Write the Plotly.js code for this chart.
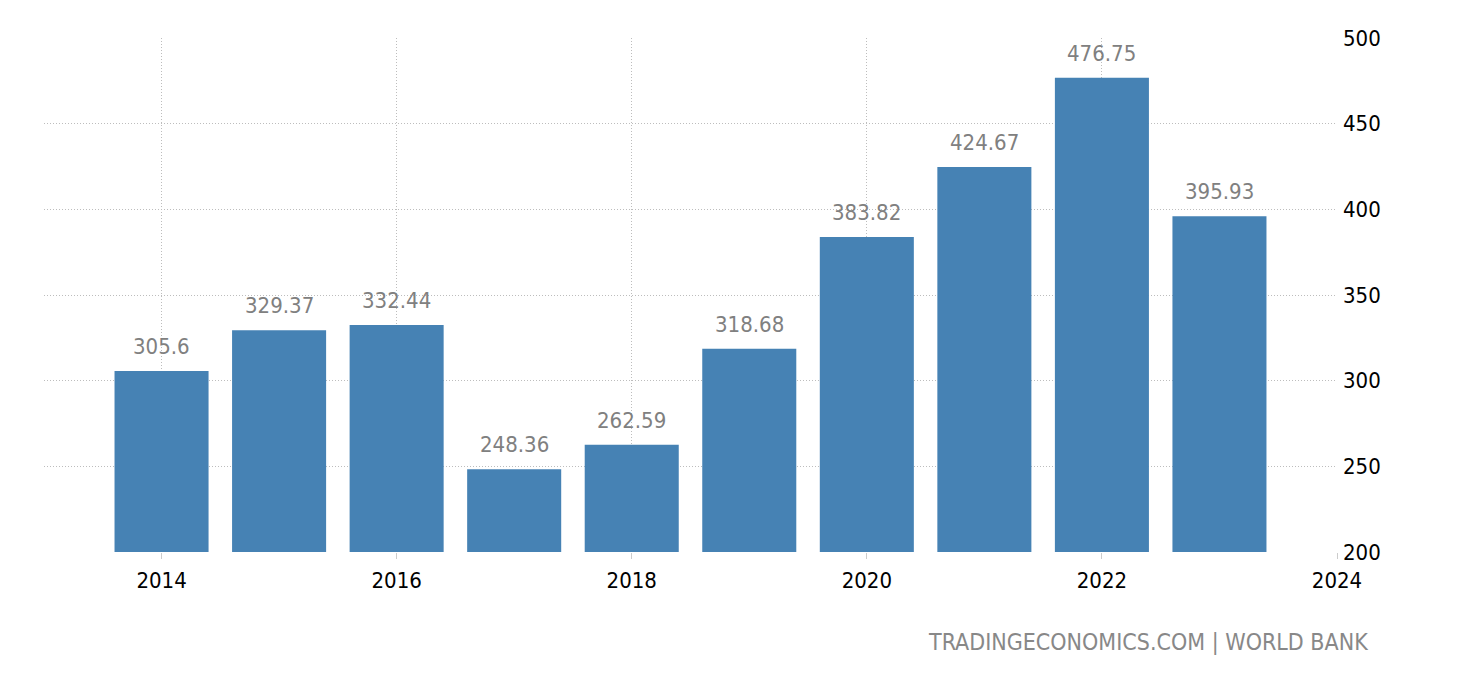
<!DOCTYPE html>
<html>
<head>
<meta charset="utf-8">
<script src="https://cdn.plot.ly/plotly-3.0.1.min.js"></script>
<style>html,body{margin:0;padding:0;background:#fff;}#chart{width:1460px;height:680px;}</style>
</head>
<body>
<div id="chart"></div>
<script>
var years = [2014, 2015, 2016, 2017, 2018, 2019, 2020, 2021, 2022, 2023];
var values = [305.6, 329.37, 332.44, 248.36, 262.59, 318.68, 383.82, 424.67, 476.75, 395.93];
var labels = ["305.6", "329.37", "332.44", "248.36", "262.59", "318.68", "383.82", "424.67", "476.75", "395.93"];
var xTicks = [2014, 2016, 2018, 2020, 2022, 2024];
var yTicks = [200, 250, 300, 350, 400, 450, 500];
var source = "TRADINGECONOMICS.COM | WORLD BANK";

var FONT = 'DejaVu Sans Condensed, DejaVu Sans';

var trace = {
  type: 'bar',
  x: years,
  y: values,
  width: 0.8,
  marker: {color: '#4682B4', line: {width: 0}},
  hoverinfo: 'skip'
};

var annotations = years.map(function(yr, i){
  return {
    x: yr, y: values[i], xref: 'x', yref: 'y',
    text: labels[i], showarrow: false,
    xanchor: 'center', yanchor: 'bottom', yshift: 10,
    font: {family: FONT, size: 22, color: '#808080'}
  };
});
annotations.push({
  text: source, showarrow: false,
  xref: 'paper', yref: 'paper', x: 1.0255, y: -0.175,
  xanchor: 'right', yanchor: 'middle',
  font: {family: FONT, size: 23, color: '#888888'}
});

var layout = {
  width: 1460, height: 680,
  margin: {l: 44, r: 123, t: 38, b: 128},
  paper_bgcolor: '#fff', plot_bgcolor: '#fff',
  showlegend: false,
  font: {family: FONT, size: 22, color: '#000'},
  xaxis: {
    range: [2013, 2024],
    tickvals: xTicks,
    ticktext: xTicks.map(String),
    showgrid: true, gridcolor: '#bdbdbd', griddash: '1px,2px', gridwidth: 1,
    zeroline: false, showline: false,
    ticks: 'outside', ticklen: 6, tickcolor: '#cccccc', tickwidth: 1,
    ticklabelstandoff: 3,
    tickfont: {family: FONT, size: 22, color: '#000'},
    fixedrange: true
  },
  yaxis: {
    side: 'right',
    range: [200, 500],
    tickvals: yTicks,
    ticktext: yTicks.map(String),
    showgrid: true, gridcolor: '#bdbdbd', griddash: '1px,2px', gridwidth: 1,
    zeroline: false, showline: false,
    ticks: '',
    ticklabelstandoff: 5,
    tickfont: {family: FONT, size: 22, color: '#000'},
    fixedrange: true
  },
  annotations: annotations
};
Plotly.newPlot('chart', [trace], layout, {displayModeBar: false, staticPlot: true});
</script>
</body>
</html>
